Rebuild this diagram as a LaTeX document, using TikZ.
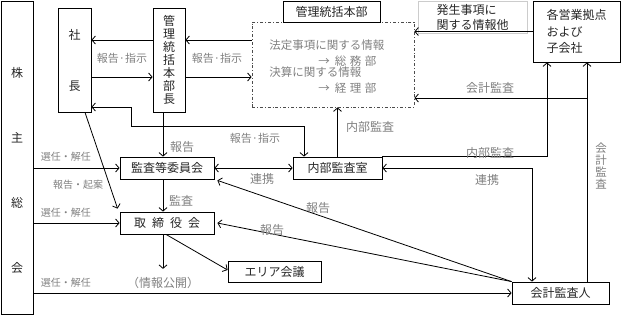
\documentclass[tikz,border=0pt]{standalone}
\usepackage{fontspec}
\setmainfont{Noto Sans CJK JP}
\usetikzlibrary{arrows.meta}
\begin{document}
\begin{tikzpicture}[x=1pt, y=-1pt, line width=0.8pt,
        >={Straight Barb[length=3.5pt,width=8pt]},
        every node/.style={inner sep=0pt, font=\fontsize{12}{14}\selectfont, text=black!85},
        blk/.style={draw, rectangle},
        lbl/.style={text=black!50, font=\fontsize{12}{14}\selectfont},
        slbl/.style={text=black!50, font=\fontsize{10}{12}\selectfont}]
        \useasboundingbox (0,0) rectangle (622,317);
        \coordinate (K) at (17,157.5);
        \coordinate (S) at (74.5,60);
        \coordinate (B) at (169,60);
        \coordinate (J) at (333,64.5);
        \coordinate (E) at (576.5,31.5);
        \coordinate (I) at (167,168);
        \coordinate (T) at (167,223);
        \coordinate (N) at (337.5,168);
        \coordinate (A) at (274.5,271.5);
        \coordinate (C) at (560.5,293);
        % boxes
        \node[blk, minimum width=32, minimum height=313] (kabu) at (K) {};
        \node[align=center, font=\fontsize{12}{65}\selectfont] (kabutxt) at (17,170) {株\\主\\総\\会};
        \node[blk, minimum width=33, minimum height=104, align=center, font=\fontsize{12}{51}\selectfont] (shacho) at (S) {社\\長};
        \node[blk, minimum width=32, minimum height=104, align=center, font=\fontsize{12}{13}\selectfont] (bucho) at (B) {管\\理\\統\\括\\本\\部\\長};
        \node[draw=black!70, dash dot, minimum width=162, minimum height=85] (joho) at (J) {};
        \node[lbl, anchor=north west, align=left, font=\fontsize{11.5}{11}\selectfont] (johotxt) at (269,39)
            {法定事項に関する情報\\[5pt]\hspace*{49pt}→\hspace{5pt}総\hspace{3.5pt}務\hspace{3.5pt}部\\
             決算に関する情報\\[5pt]\hspace*{49pt}→\hspace{5pt}経\hspace{3.5pt}理\hspace{3.5pt}部};
        \node[blk, fill=white, minimum width=97, minimum height=21] (honbu) at (331.5,11.5) {管理統括本部};
        \node[draw=black!20, minimum width=109, minimum height=32, align=left, font=\fontsize{12}{15}\selectfont] (hassei) at (472.5,17) {発生事項に\\関する情報他};
        \node[blk, minimum width=87, minimum height=61, align=left, font=\fontsize{12}{16.5}\selectfont] (eigyo) at (E) {各営業拠点\\および\\子会社};
        \node[blk, minimum width=94, minimum height=22] (iinkai) at (I) {監査等委員会};
        \node[blk, minimum width=94, minimum height=22] (torishimari) at (T) {取\hspace{6pt}締\hspace{6pt}役\hspace{6pt}会};
        \node[blk, minimum width=89, minimum height=22] (naibu) at (N) {内部監査室};
        \node[blk, minimum width=93, minimum height=21] (area) at (A) {エリア会議};
        \node[blk, minimum width=97, minimum height=22] (kaikei) at (C) {会計監査人};
        \node[lbl] (kokai) at (163,283) {（情報公開）};
        % arrows
        \draw[->] ([yshift=20pt]bucho.west) -- ([yshift=20pt]shacho.east);
        \draw[->] ([yshift=-17pt]shacho.east) -- ([yshift=-17pt]bucho.west);
        \draw[->] ([yshift=24.5pt]joho.west) -- ([yshift=20pt]bucho.east);
        \draw[->] ([yshift=-17pt]bucho.east) -- ([yshift=-12.5pt]joho.west);
        \draw[->] (eigyo.west) -- (eigyo.west -| joho.east);
        \draw[->] ([xshift=26.5pt]kaikei.north) -- ([xshift=26.5pt]kaikei.north |- eigyo.south);
        \coordinate (kk) at (587,98);
        \draw[->] (kk) -- (kk -| joho.east);
        \draw[->] (naibu.north east) -| ([xshift=-29.5pt]eigyo.south);
        \draw[->] (naibu.north) -- (naibu.north |- joho.south);
        \draw[<->] ([yshift=-47pt]shacho.east) -| ++(40,19) -| ([xshift=-33.5pt]naibu.north);
        \draw[->] ([xshift=-6pt]bucho.south) -- ([xshift=-6pt]bucho.south |- iinkai.north);
        \draw[->] ([xshift=-4pt]iinkai.south) -- ([xshift=-4pt]torishimari.north);
        \draw[->] ([xshift=-4pt]torishimari.south) -- ([yshift=8pt]kokai.north);
        \draw[->] ([xshift=-1pt]torishimari.south) -- ([yshift=1.5pt]area.west);
        \draw[<->] (iinkai.east) -- (naibu.west);
        \draw[<->] (naibu.east) -| ([xshift=-28.5pt]kaikei.north);
        \draw[->] (kaikei.north west) -- ([xshift=3pt,yshift=-1pt]iinkai.south east);
        \draw[->] (kaikei.north west) -- ([xshift=3pt]torishimari.east);
        \draw[->] (kabu.east |- iinkai) -- (iinkai.west);
        \draw[->] (kabu.east |- torishimari) -- (torishimari.west);
        \draw[->] (kabu.east |- kaikei) -- (kaikei.west);
        \draw[->] ([xshift=10.5pt]shacho.south) -- ([xshift=-2pt,yshift=3pt]torishimari.north west);
        % labels
        \node[lbl, font=\fontsize{11}{13}\selectfont] (l1) at (122,58) {報告·指示};
        \node[lbl, font=\fontsize{11}{13}\selectfont] (l2) at (217,58) {報告·指示};
        \node[lbl, font=\fontsize{11}{13}\selectfont] (l3) at (255,138) {報告·指示};
        \node[lbl] (l4) at (182,147) {報告};
        \node[lbl] (l5) at (181,201) {監査};
        \node[lbl] (l6) at (262,179) {連携};
        \node[lbl] (l7) at (487,180) {連携};
        \node[lbl] (l8) at (370,127) {内部監査};
        \node[lbl] (l9) at (490,153) {内部監査};
        \node[lbl] (l10) at (490,88) {会計監査};
        \node[lbl, align=center, font=\fontsize{11.5}{12}\selectfont] (l11) at (601,166) {会\\計\\監\\査};
        \node[lbl] (l12) at (318,208) {報告};
        \node[lbl] (l13) at (272,230) {報告};
        \node[slbl] (s1) at (66,157) {選任・解任};
        \node[slbl] (s2) at (66,213) {選任・解任};
        \node[slbl] (s3) at (66,283) {選任・解任};
        \node[slbl] (s4) at (78,185) {報告・起案};
\end{tikzpicture}
\end{document}
